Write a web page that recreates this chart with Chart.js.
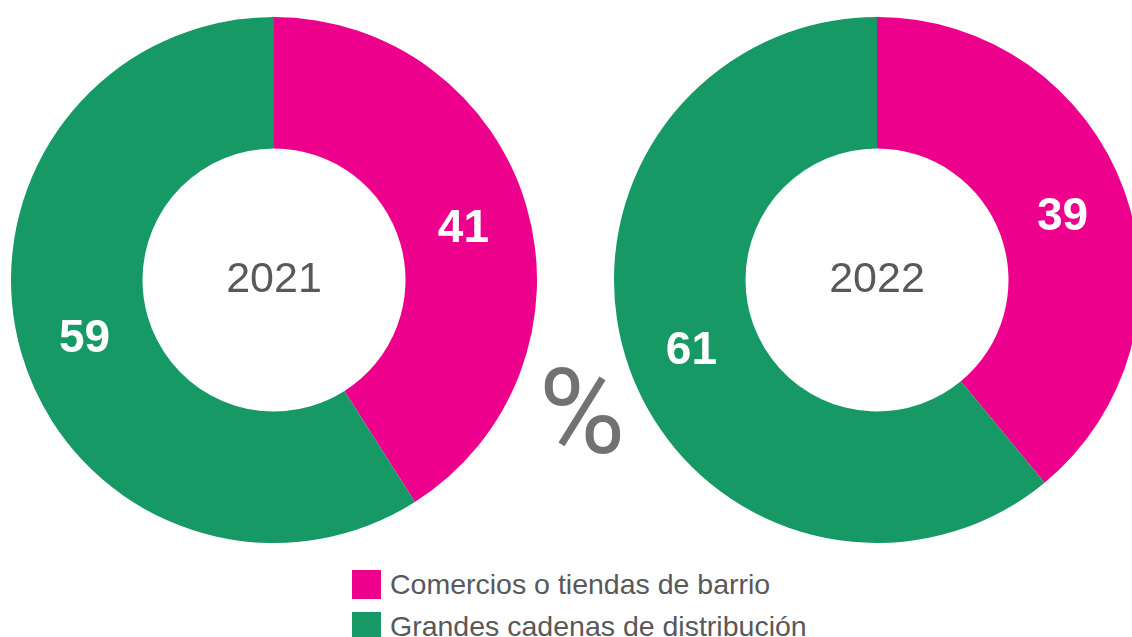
<!DOCTYPE html>
<html>
<head>
<meta charset="utf-8">
<script src="https://cdn.jsdelivr.net/npm/chart.js@4/dist/chart.umd.min.js"></script>
<style>
  html, body { margin: 0; padding: 0; background: #ffffff; width: 1132px; height: 637px; overflow: hidden; }
  body { position: relative; font-family: "Liberation Sans", Arial, Helvetica, sans-serif; }
  .wrap { position: absolute; top: 17px; width: 526px; height: 526px; }
  #w1 { left: 11px; }
  #w2 { left: 614px; }
  #pct { position: absolute; left: 522px; top: 353px; width: 120px; text-align: center; font-family: Roboto, "Liberation Sans", sans-serif; font-size: 118px; line-height: 120px; color: #707274; }
  #legend { position: absolute; left: 352px; top: 570px; }
  .item { display: flex; align-items: center; height: 29px; margin-bottom: 13px; font-size: 28.5px; color: #58595b; white-space: nowrap; }
  .sw { width: 29px; height: 29px; margin-right: 9px; flex: none; }
</style>
</head>
<body>
<div class="wrap" id="w1"><canvas id="c1" width="526" height="526"></canvas></div>
<div class="wrap" id="w2"><canvas id="c2" width="526" height="526"></canvas></div>
<div id="pct">%</div>
<div id="legend"></div>
<script>
const categories = ["Comercios o tiendas de barrio", "Grandes cadenas de distribución"];
const years = ["2021", "2022"];
const values2021 = [41, 59];
const values2022 = [39, 61];
const colors = ["#EC008C", "#179966"];

const labelPlugin = {
  id: 'labels',
  afterDatasetsDraw(chart, args, opts) {
    const ctx = chart.ctx;
    const meta = chart.getDatasetMeta(0);
    ctx.save();
    ctx.textAlign = 'center';
    ctx.textBaseline = 'middle';
    ctx.fillStyle = '#ffffff';
    ctx.font = 'bold 46px "Liberation Sans", Arial, sans-serif';
    meta.data.forEach((arc, i) => {
      const p = arc.tooltipPosition();
      ctx.fillText(String(chart.data.datasets[0].data[i]), p.x, p.y + 4);
    });
    const a = meta.data[0];
    ctx.fillStyle = '#58595b';
    ctx.font = '43px "Liberation Sans", Arial, sans-serif';
    ctx.fillText(opts.title, a.x, a.y);
    ctx.restore();
  }
};

function makeChart(id, values, title) {
  new Chart(document.getElementById(id), {
    type: 'doughnut',
    data: {
      labels: categories,
      datasets: [{ data: values, backgroundColor: colors, borderWidth: 0, hoverOffset: 0 }]
    },
    options: {
      responsive: false,
      animation: false,
      cutout: '50%',
      layout: { padding: 0 },
      plugins: {
        legend: { display: false },
        tooltip: { enabled: false },
        labels: { title: title }
      }
    },
    plugins: [labelPlugin]
  });
}

makeChart('c1', values2021, years[0]);
makeChart('c2', values2022, years[1]);

const lg = document.getElementById('legend');
categories.forEach((c, i) => {
  const d = document.createElement('div');
  d.className = 'item';
  const s = document.createElement('span');
  s.className = 'sw';
  s.style.background = colors[i];
  const t = document.createElement('span');
  t.textContent = c;
  d.appendChild(s); d.appendChild(t);
  lg.appendChild(d);
});
</script>
</body>
</html>
